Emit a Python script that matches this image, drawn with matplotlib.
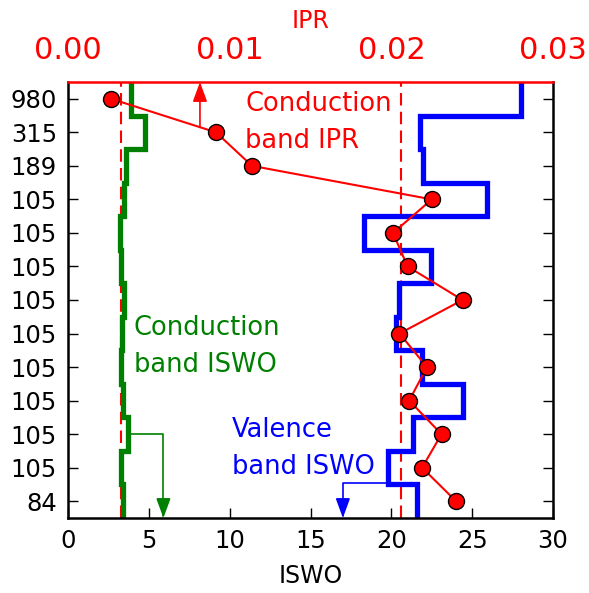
import numpy as np
import matplotlib
matplotlib.use("Agg")
from matplotlib import pyplot as plt

# one row per state, top to bottom
row_labels = ['980', '315', '189', '105', '105', '105', '105',
              '105', '105', '105', '105', '105', '84']
cond_iswo = [3.88, 4.76, 3.57, 3.48, 3.20, 3.26, 3.46, 3.32, 3.28, 3.38, 3.69, 3.28, 3.38]
val_iswo = [28.0, 21.77, 21.97, 25.9, 18.3, 22.45, 20.5, 20.3, 21.9, 24.45, 21.35, 19.8, 21.6]
cond_ipr = [0.00266, 0.00915, 0.01138, 0.0225, 0.0201, 0.0210, 0.0244,
            0.0205, 0.0222, 0.0211, 0.0231, 0.0219, 0.0240]
ref_iswo = [3.28, 20.6]

rows = np.arange(len(row_labels))
edges = np.arange(len(row_labels) + 1) - 0.5
head = '-|>,head_length=0.6,head_width=0.22'

fig = plt.figure(figsize=(5.89, 5.93), dpi=100)
ax = fig.add_axes([0.1155, 0.1265, 0.8235, 0.7352])

for x in ref_iswo:
    ax.axvline(x, color='red', lw=1.5, linestyle=(0, (6, 3)), zorder=1)

ax.stairs(cond_iswo, edges, orientation='horizontal', baseline=None,
          color='green', lw=3.8, zorder=2)
ax.stairs(val_iswo, edges, orientation='horizontal', baseline=None,
          color='blue', lw=3.8, zorder=2)

ax.set_xlim(0, 30)
ax.set_ylim(edges[-1], edges[0])
ax.set_yticks(rows)
ax.set_yticklabels(row_labels)
ax.set_xticks([0, 5, 10, 15, 20, 25, 30])
ax.tick_params(direction='in', length=7, width=1, right=True, top=False,
               labelsize=17.5, pad=8)
ax.set_xlabel('ISWO', fontsize=17, labelpad=8)
for s in ['left', 'right', 'bottom']:
    ax.spines[s].set_linewidth(1.8)
ax.spines['top'].set_visible(False)

# annotations on the ISWO axis
ax.text(4.05, 7.4, 'Conduction\nband ISWO', color='green', fontsize=18.5,
        ha='left', va='center', linespacing=1.55)
ax.text(10.15, 10.42, 'Valence\nband ISWO', color='blue', fontsize=18.5,
        ha='left', va='center', linespacing=1.55)
ax.text(10.95, 0.72, 'Conduction\nband IPR', color='red', fontsize=18.5,
        ha='left', va='center', linespacing=1.55)
ax.annotate('', xy=(5.9, 12.5), xytext=(3.75, 10.0),
            arrowprops=dict(arrowstyle=head, color='green', lw=1.2,
                            connectionstyle='angle,angleA=0,angleB=90,rad=0',
                            shrinkA=0, shrinkB=0, mutation_scale=20))
ax.annotate('', xy=(17.0, 12.5), xytext=(19.7, 11.46),
            arrowprops=dict(arrowstyle=head, color='blue', lw=1.2,
                            connectionstyle='angle,angleA=0,angleB=90,rad=0',
                            shrinkA=0, shrinkB=0, mutation_scale=20))

# IPR on the top axis
ax2 = ax.twiny()
ax2.plot(cond_ipr, rows, '-', color='red', lw=1.5, marker='o', markersize=11.5,
         markerfacecolor='red', markeredgecolor='black', markeredgewidth=1,
         zorder=5)
ax2.set_xlim(0, 0.03)
ax2.set_xticks([0.0, 0.01, 0.02, 0.03])
ax2.set_xticklabels(['0.00', '0.01', '0.02', '0.03'])
ax2.tick_params(axis='x', length=0, labelsize=22, labelcolor='red', pad=12)
ax2.set_xlabel('IPR', color='red', fontsize=17, labelpad=6)
for s in ['left', 'right', 'bottom']:
    ax2.spines[s].set_visible(False)
ax2.spines['top'].set_color('red')
ax2.spines['top'].set_linewidth(1.8)
ax2.annotate('', xy=(0.00816, -0.5), xytext=(0.00816, 0.855),
             arrowprops=dict(arrowstyle=head, color='red', lw=1.2,
                             shrinkA=0, shrinkB=0, mutation_scale=20))

fig.savefig('out.png', dpi=100)
